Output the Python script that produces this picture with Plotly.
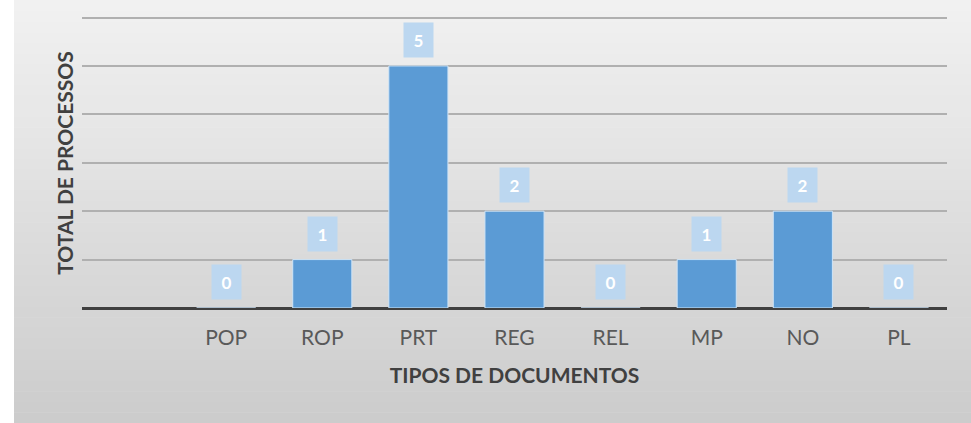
import plotly.graph_objects as go

categories = ["POP", "ROP", "PRT", "REG", "REL", "MP", "NO", "PL"]
values = [0, 1, 5, 2, 0, 1, 2, 0]
positions = [1, 2, 3, 4, 5, 6, 7, 8]
y_ticks = [0, 1, 2, 3, 4, 5, 6]

W, H = 971, 423
ML, MR, MT, MB = 82, 24, 2.5, 115
pw = W - ML - MR
ph = H - MT - MB

fig = go.Figure()
fig.add_trace(go.Bar(
    x=positions, y=values,
    marker=dict(color="#5b9bd5", line=dict(color="#cfe4f7", width=1)),
    width=0.615, hoverinfo="skip",
))

# background gradient strips
x0 = (14 - ML) / pw
x1 = (W - ML) / pw
ytop = 1 + MT / ph
ybot = -MB / ph
n = 40
c_top = (0xf1, 0xf1, 0xf1)
c_bot = (0xcc, 0xcc, 0xcc)
for i in range(n):
    t = i / (n - 1)
    c = tuple(int(round(a + (b - a) * t)) for a, b in zip(c_top, c_bot))
    ya = ytop - (ytop - ybot) * i / n
    yb = ytop - (ytop - ybot) * (i + 1) / n
    fig.add_shape(type="rect", xref="paper", yref="paper", x0=x0, x1=x1,
                  y0=yb - 0.002, y1=ya + 0.05 * (i == 0), fillcolor="rgb(%d,%d,%d)" % c,
                  line=dict(width=0), layer="below")

for p, v in zip(positions, values):
    fig.add_annotation(x=p, y=v, xref="x", yref="y", text="<b>%d</b>" % v,
                       showarrow=False, yanchor="bottom", yshift=8,
                       bgcolor="#bcd7f0", width=27, height=32,
                       font=dict(color="white", size=17, family="Lato"))

# y-axis title, centred on the 0..6 gridline span
fig.add_annotation(x=(65 - ML) / pw, xref="paper", y=3, yref="y",
                   text="<b>TOTAL DE PROCESSOS</b>", textangle=-90, showarrow=False,
                   xanchor="center", yanchor="middle",
                   font=dict(size=21, color="#404040", family="Lato"))

fig.update_layout(
    width=W, height=H,
    margin=dict(l=ML, r=MR, t=MT, b=MB),
    paper_bgcolor="white", plot_bgcolor="rgba(0,0,0,0)",
    showlegend=False,
    font=dict(family="Lato", color="#595959"),
    xaxis=dict(
        range=[-0.5, 8.5], tickmode="array", tickvals=positions, ticktext=categories,
        tickfont=dict(size=21, color="#595959"), showgrid=False, zeroline=False,
        showline=False, ticks="", ticklabelstandoff=15,
        title=dict(text="<b>TIPOS DE DOCUMENTOS</b>", font=dict(size=21, color="#404040"), standoff=20),
    ),
    yaxis=dict(
        range=[0, 6.3], tickmode="array", tickvals=y_ticks, showticklabels=False,
        showgrid=True, gridcolor="#b0b0b0", gridwidth=1.5,
        zeroline=True, zerolinecolor="#404040", zerolinewidth=3,
    ),
)

fig.write_html("out.html", config={"displayModeBar": False},
               post_script="document.body.style.margin='0';document.body.style.overflow='hidden';")
